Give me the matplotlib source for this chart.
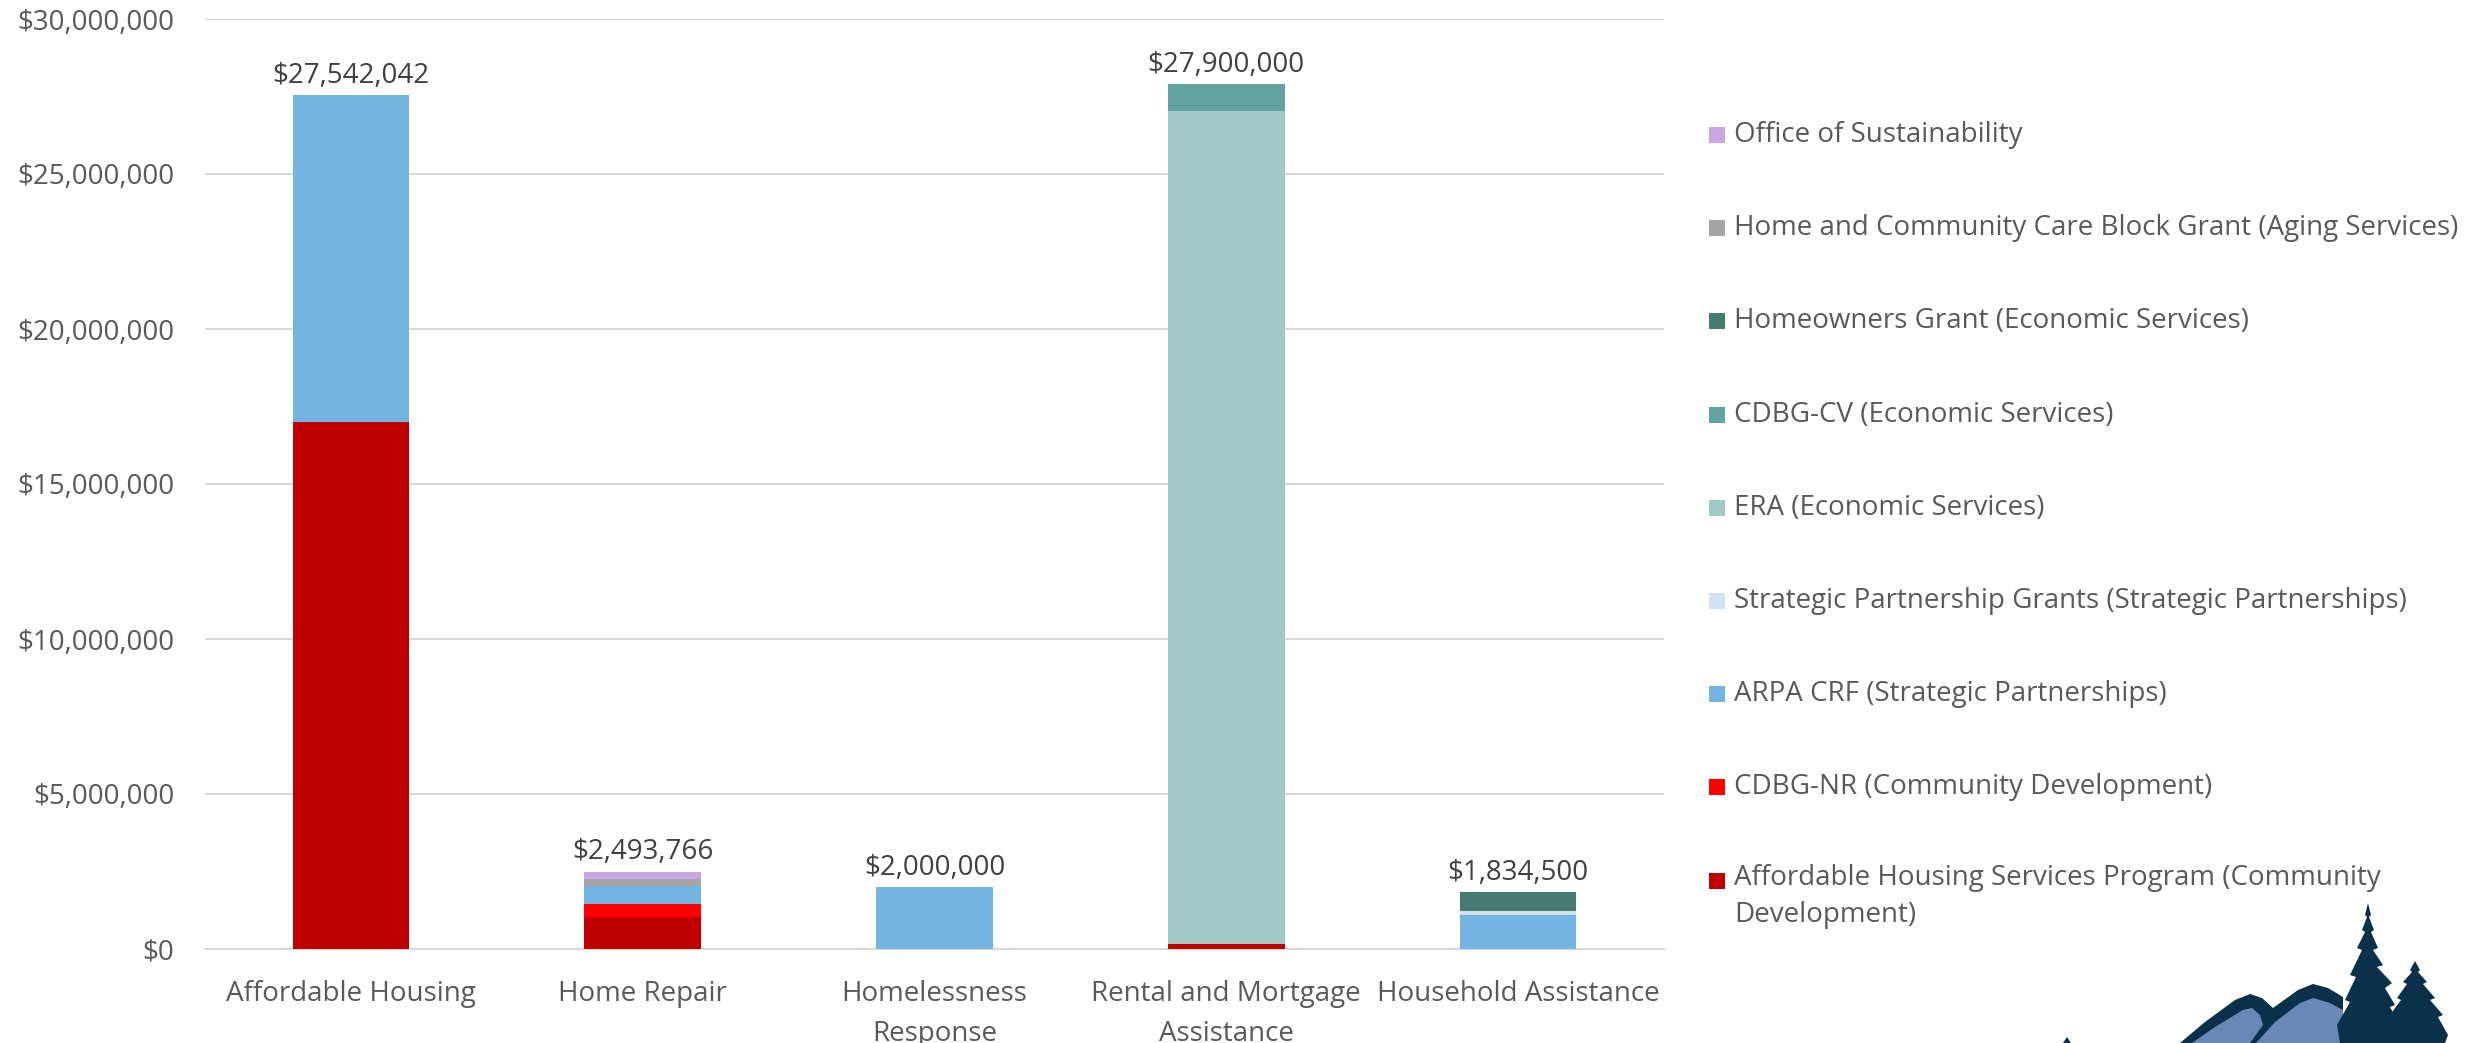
import matplotlib
matplotlib.use("Agg")
import matplotlib.pyplot as plt
from matplotlib.patches import Rectangle, Polygon
from matplotlib.ticker import FuncFormatter
import numpy as np

plt.rcParams['font.family'] = ['Open Sans', 'DejaVu Sans']

categories = ["Affordable Housing", "Home Repair", "Homelessness\nResponse",
              "Rental and Mortgage\nAssistance", "Household Assistance"]

# series (bottom to top of stack)
series_names = [
    "Affordable Housing Services Program (Community\nDevelopment)",
    "CDBG-NR (Community Development)",
    "ARPA CRF (Strategic Partnerships)",
    "Strategic Partnership Grants (Strategic Partnerships)",
    "ERA (Economic Services)",
    "CDBG-CV (Economic Services)",
    "Homeowners Grant (Economic Services)",
    "Home and Community Care Block Grant (Aging Services)",
    "Office of Sustainability",
]
ahsp = [17000000, 1040000, 0, 150000, 0]
cdbg_nr = [0, 410000, 0, 0, 0]
arpa_crf = [10542042, 590000, 2000000, 0, 1100000]
strategic = [0, 0, 0, 0, 115000]
era = [0, 0, 0, 26880000, 0]
cdbg_cv = [0, 0, 0, 870000, 0]
homeowners = [0, 0, 0, 0, 619500]
hccbg = [0, 215000, 0, 0, 0]
office = [0, 238766, 0, 0, 0]

series_values = [ahsp, cdbg_nr, arpa_crf, strategic, era, cdbg_cv, homeowners, hccbg, office]
colors = ["#C00000", "#FF0000", "#74B4E2", "#CFE3F4", "#A2C8C5",
          "#62A39F", "#467A73", "#A5A5A5", "#C9A6E4"]

W, H = 2471, 1043
fig = plt.figure(figsize=(W / 100, H / 100), dpi=100)
ax = fig.add_axes([205 / W, (H - 949) / H, (1664 - 205) / W, (949 - 19) / H])

x = np.arange(len(categories))
bottom = np.zeros(len(categories))
for vals, col in zip(series_values, colors):
    v = np.array(vals, dtype=float)
    ax.bar(x, v, width=0.4, bottom=bottom, color=col, linewidth=0, zorder=3)
    bottom += v

totals = bottom
for xi, t in zip(x, totals):
    ax.annotate(f"${t:,.0f}", (xi, t), xytext=(0, 14), textcoords="offset points",
                ha="center", va="center", fontsize=20, color="#404040")

ax.set_xlim(-0.5, len(categories) - 0.5)
ax.set_ylim(0, 30000000)
ax.set_yticks(np.arange(0, 30000001, 5000000))
ax.yaxis.set_major_formatter(FuncFormatter(lambda v, p: f"${v:,.0f}"))
ax.set_xticks(x)
ax.set_xticklabels(categories, linespacing=1.6)
ax.tick_params(axis="both", length=0, labelsize=20, labelcolor="#595959")
ax.tick_params(axis="y", pad=22)
ax.tick_params(axis="x", pad=22)
ax.grid(axis="y", color="#D9D9D9", linewidth=1.5, zorder=0)
for s in ["top", "right", "left"]:
    ax.spines[s].set_visible(False)
ax.spines["bottom"].set_color("#D9D9D9")
ax.spines["bottom"].set_linewidth(1.5)
ax.set_axisbelow(True)

# legend (top entry = last series)
leg_y0 = 135
leg_dy = 93.2
for i, (name, col) in enumerate(zip(series_names[::-1], colors[::-1])):
    yc = leg_y0 + i * leg_dy
    fig.patches.append(Rectangle((1709 / W, 1 - (yc + 8) / H), 16 / W, 16 / H,
                                 transform=fig.transFigure, facecolor=col,
                                 edgecolor="none", figure=fig))
    if "\n" in name:
        fig.text(1734 / W, 1 - (yc - 17) / H, name, fontsize=20, color="#595959",
                 va="top", ha="left", linespacing=1.45)
    else:
        fig.text(1734 / W, 1 - yc / H, name, fontsize=20, color="#595959",
                 va="center", ha="left")

# decorative logo (bottom right)
def P(pts):
    return [(px / W, 1 - py / H) for px, py in pts]

def add_poly(pts, color):
    fig.patches.append(Polygon(P(pts), closed=True, transform=fig.transFigure,
                               facecolor=color, edgecolor="none", figure=fig))

dark = "#0A3149"
light = "#6A87B5"
add_poly([(2180, 1043), (2205, 1022), (2235, 1000), (2250, 994), (2262, 998),
          (2273, 1008), (2298, 990), (2313, 984), (2328, 988), (2343, 997),
          (2343, 1043)], dark)
add_poly([(2192, 1043), (2215, 1027), (2243, 1010), (2252, 1008), (2260, 1015),
          (2263, 1025), (2250, 1043)], light)
add_poly([(2256, 1043), (2275, 1022), (2300, 1003), (2313, 998), (2330, 1003),
          (2343, 1010), (2343, 1043)], light)
add_poly([(2368, 903), (2371, 915), (2369, 917), (2374, 930), (2371, 932),
          (2378, 948), (2373, 950), (2383, 965), (2377, 967), (2392, 983),
          (2385, 988), (2395, 1005), (2390, 1007), (2400, 1025), (2397, 1043),
          (2340, 1043), (2337, 1025), (2350, 1002), (2345, 1000), (2356, 977),
          (2350, 975), (2362, 950), (2357, 948), (2365, 932), (2362, 930),
          (2367, 917), (2365, 915)], dark)
add_poly([(2415, 961), (2420, 970), (2418, 972), (2427, 982), (2423, 984),
          (2435, 998), (2430, 1000), (2443, 1015), (2438, 1017), (2448, 1035),
          (2445, 1043), (2392, 1043), (2395, 1017), (2390, 1015), (2401, 1000),
          (2397, 998), (2407, 984), (2403, 982), (2412, 972), (2410, 970)], dark)
add_poly([(2067, 1037), (2071, 1043), (2063, 1043)], dark)

fig.savefig("out.png", dpi=100, facecolor="white")
